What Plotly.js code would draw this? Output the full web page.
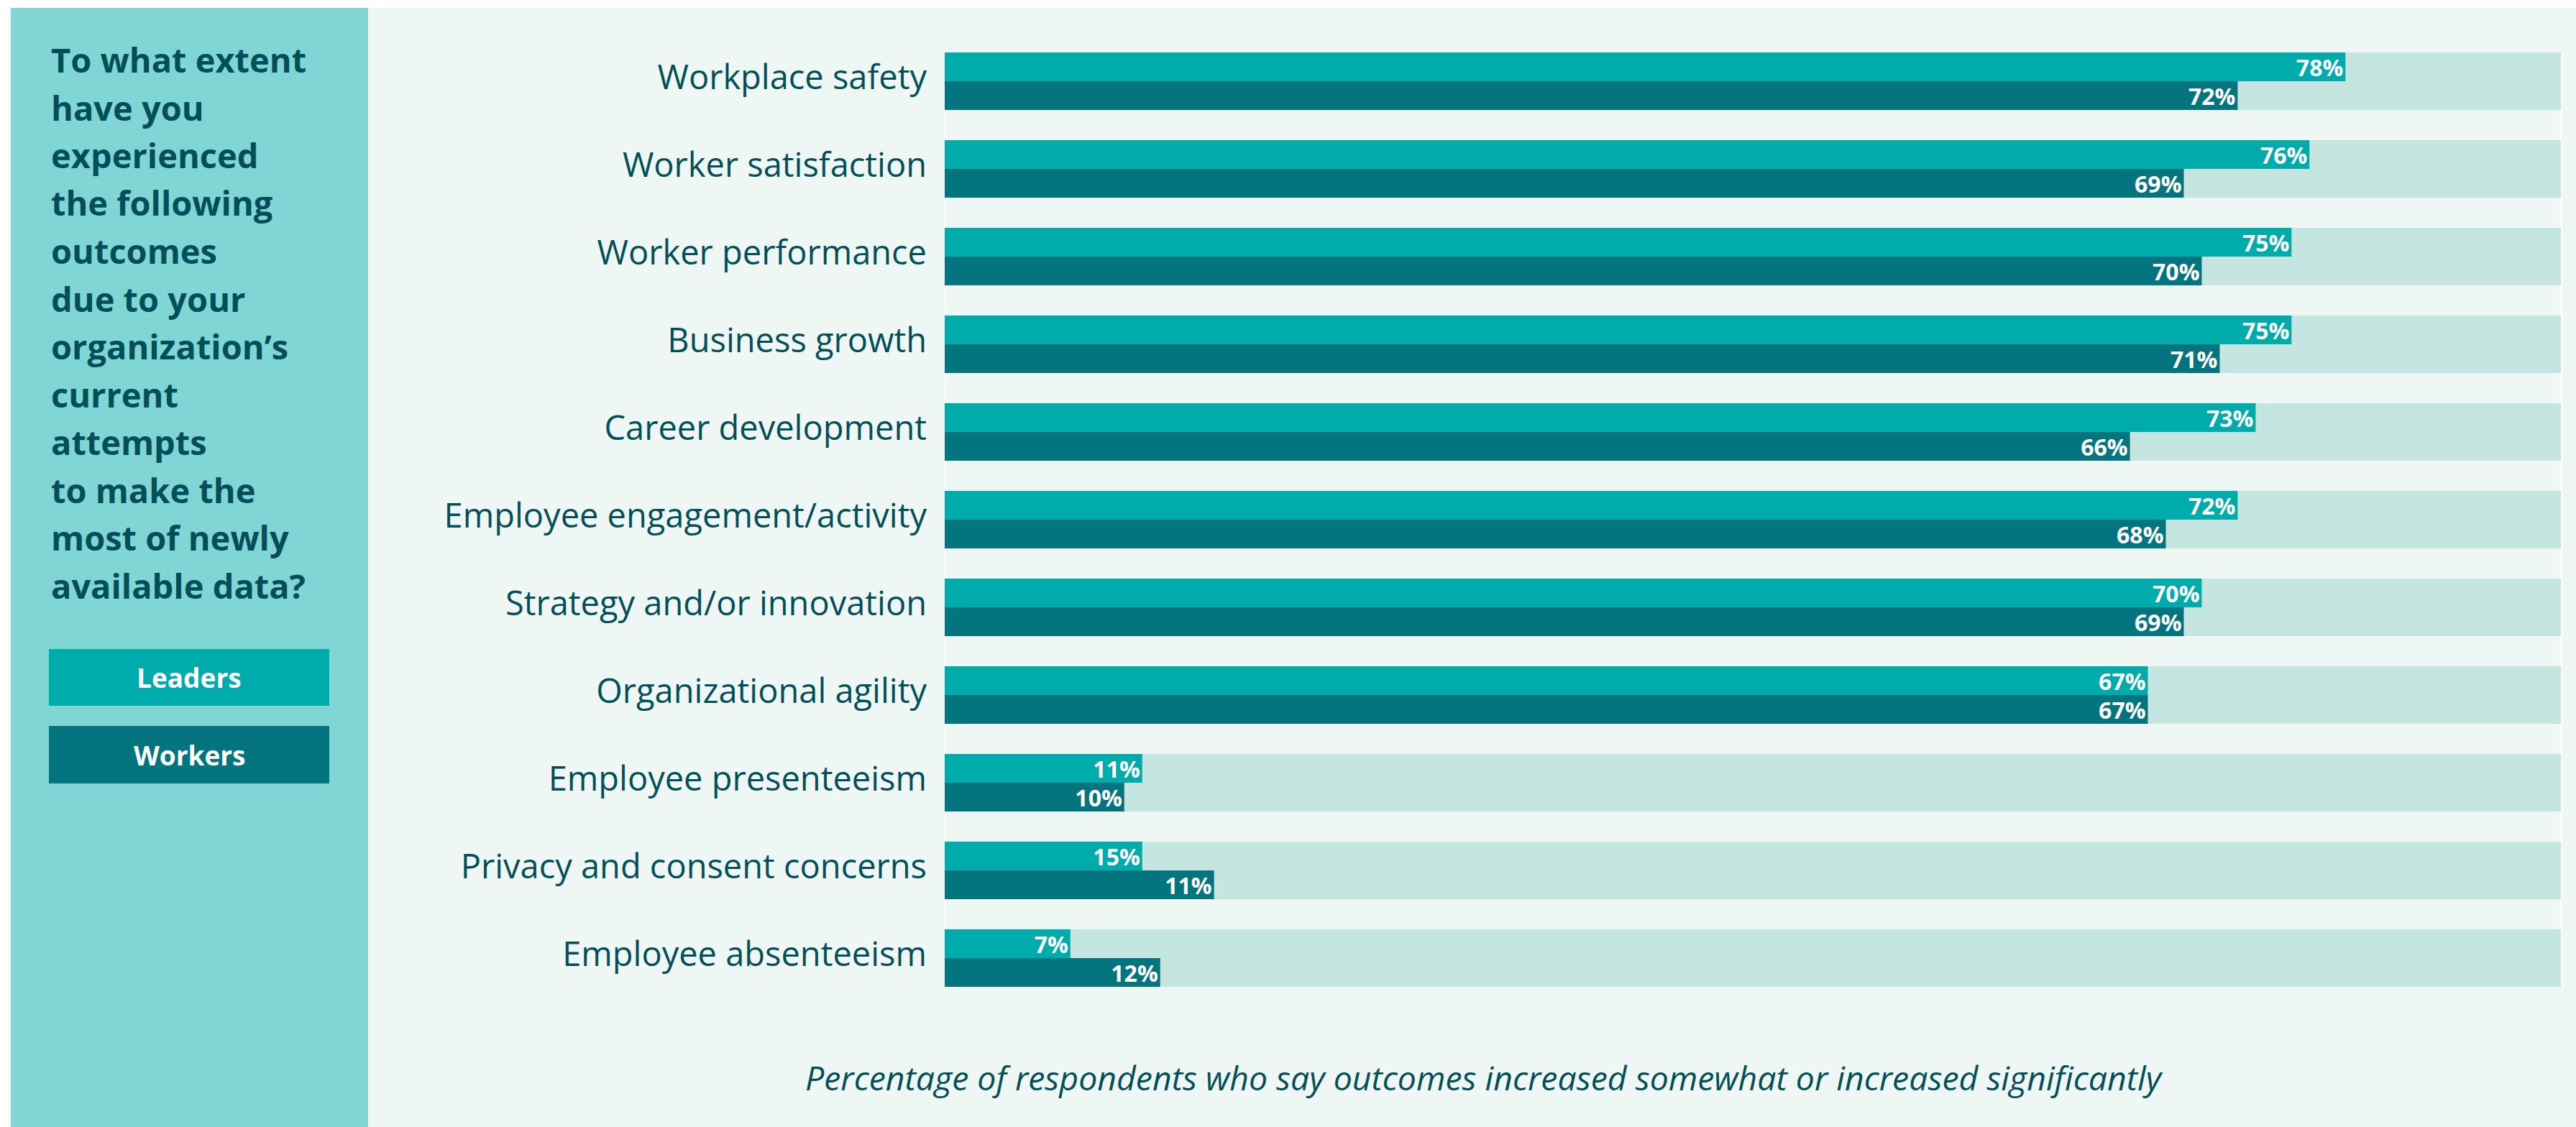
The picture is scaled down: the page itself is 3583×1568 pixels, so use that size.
<!DOCTYPE html>
<html>
<head>
<meta charset="utf-8">
<script src="https://cdn.plot.ly/plotly-3.0.1.min.js"></script>
<style>
  html, body { margin: 0; padding: 0; background: #ffffff; }
  #chart { width: 3583px; height: 1568px; }
</style>
</head>
<body>
<div id="chart"></div>
<script>
// ---- data ----
const categories = [
  "Workplace safety",
  "Worker satisfaction",
  "Worker performance",
  "Business growth",
  "Career development",
  "Employee engagement/activity",
  "Strategy and/or innovation",
  "Organizational agility",
  "Employee presenteeism",
  "Privacy and consent concerns",
  "Employee absenteeism"
];
// bar lengths as drawn in the picture
const leaders = [78, 76, 75, 75, 73, 72, 70, 67, 11, 11, 7];
const workers = [72, 69, 70, 71, 66, 68, 69, 67, 10, 15, 12];
// value labels as printed in the picture
const leadersLabels = ["78%", "76%", "75%", "75%", "73%", "72%", "70%", "67%", "11%", "15%", "7%"];
const workersLabels = ["72%", "69%", "70%", "71%", "66%", "68%", "69%", "67%", "10%", "11%", "12%"];
const seriesNames = ["Leaders", "Workers"];
const trackMax = 90;
const questionLines = [
  "To what extent",
  "have you",
  "experienced",
  "the following",
  "outcomes",
  "due to your",
  "organization’s",
  "current",
  "attempts",
  "to make the",
  "most of newly",
  "available data?"
];
const footnote = "Percentage of respondents who say outcomes increased somewhat or increased significantly";

// ---- style ----
const C = {
  leaders: "#00abac",
  workers: "#04747e",
  track: "#c5e6e0",
  panelR: "#eef7f4",
  panelL: "#80d6d4",
  text: "#034f59"
};
const W = 3583, H = 1568;
const lift = 5;                               // tick labels sit slightly above group centre
const M = { l: 1314, r: 16, t: 52 - lift, b: 174 + lift };
const PW = W - M.l - M.r, PH = H - M.t - M.b;
const px = x => (x - M.l) / PW;               // pixel -> paper x
const py = y => 1 - (y - M.t) / PH;           // pixel -> paper y
const pitch = PH / categories.length;
const barW = 40 / pitch;
const s = lift / pitch;

const labelFont = { family: "Open Sans", size: 32, color: "#ffffff", weight: 700 };

const traces = [
  {
    type: "bar", orientation: "h", y: categories,
    x: categories.map(() => trackMax),
    width: 2 * barW, offset: -barW + s,
    marker: { color: C.track }, hoverinfo: "skip", showlegend: false
  },
  {
    type: "bar", orientation: "h", name: seriesNames[0], y: categories, x: leaders,
    width: barW, offset: -barW + s,
    marker: { color: C.leaders },
    text: leadersLabels, textposition: "inside", insidetextanchor: "end",
    textfont: labelFont, insidetextfont: labelFont, constraintext: "none",
    showlegend: false
  },
  {
    type: "bar", orientation: "h", name: seriesNames[1], y: categories, x: workers,
    width: barW, offset: s,
    marker: { color: C.workers },
    text: workersLabels, textposition: "inside", insidetextanchor: "end",
    textfont: labelFont, insidetextfont: labelFont, constraintext: "none",
    showlegend: false
  }
];

const shapes = [
  { type: "rect", xref: "paper", yref: "paper", x0: px(15), x1: px(512), y0: py(11), y1: py(H + 5),
    fillcolor: C.panelL, line: { width: 0 }, layer: "below" },
  { type: "rect", xref: "paper", yref: "paper", x0: px(513), x1: px(W + 5), y0: py(11), y1: py(H + 5),
    fillcolor: C.panelR, line: { width: 0 }, layer: "below" },
  { type: "rect", xref: "paper", yref: "paper", x0: px(68), x1: px(458), y0: py(903), y1: py(982),
    fillcolor: C.leaders, line: { width: 0 } },
  { type: "rect", xref: "paper", yref: "paper", x0: px(68), x1: px(458), y0: py(1010), y1: py(1090),
    fillcolor: C.workers, line: { width: 0 } },
  { type: "line", xref: "x", yref: "y", x0: 0, x1: 0, y0: -barW + s, y1: categories.length - 1 + barW + s,
    line: { color: "#ffffff", width: 3 }, layer: "below" },
  { type: "line", xref: "x", yref: "y", x0: trackMax, x1: trackMax, y0: -barW + s, y1: categories.length - 1 + barW + s,
    line: { color: "#ffffff", width: 3 }, layer: "below" }
];

const annotations = [];
questionLines.forEach((line, i) => {
  annotations.push({
    xref: "paper", yref: "paper", x: px(69), y: py(104 + i * 66.5),
    xanchor: "left", yanchor: "bottom", yshift: -13, showarrow: false, align: "left",
    text: line, font: { family: "Open Sans", size: 47, color: C.text, weight: 700 }
  });
});
annotations.push({
  xref: "paper", yref: "paper", x: px(263), y: py(942.5), xanchor: "center", yanchor: "middle",
  showarrow: false, text: seriesNames[0], font: { family: "Open Sans", size: 37, color: "#ffffff", weight: 700 }
});
annotations.push({
  xref: "paper", yref: "paper", x: px(263), y: py(1050), xanchor: "center", yanchor: "middle",
  showarrow: false, text: seriesNames[1], font: { family: "Open Sans", size: 37, color: "#ffffff", weight: 700 }
});
annotations.push({
  xref: "paper", yref: "paper", x: px(2064), y: py(1521), xanchor: "center", yanchor: "bottom", yshift: -12,
  showarrow: false, text: "<i>" + footnote + "</i>",
  font: { family: "Open Sans", size: 46.4, color: C.text }
});

const layout = {
  width: W, height: H,
  margin: M,
  paper_bgcolor: "#ffffff",
  plot_bgcolor: "rgba(0,0,0,0)",
  barmode: "overlay",
  showlegend: false,
  xaxis: { range: [0, 90.2], showgrid: false, zeroline: false, showticklabels: false, ticks: "", fixedrange: true },
  yaxis: {
    type: "category", autorange: "reversed", showgrid: false, zeroline: false, ticks: "",
    ticklabelstandoff: 24,
    tickfont: { family: "Open Sans", size: 47, color: C.text }
  },
  shapes: shapes,
  annotations: annotations
};

Plotly.newPlot("chart", traces, layout, { staticPlot: true, displayModeBar: false });
</script>
</body>
</html>
